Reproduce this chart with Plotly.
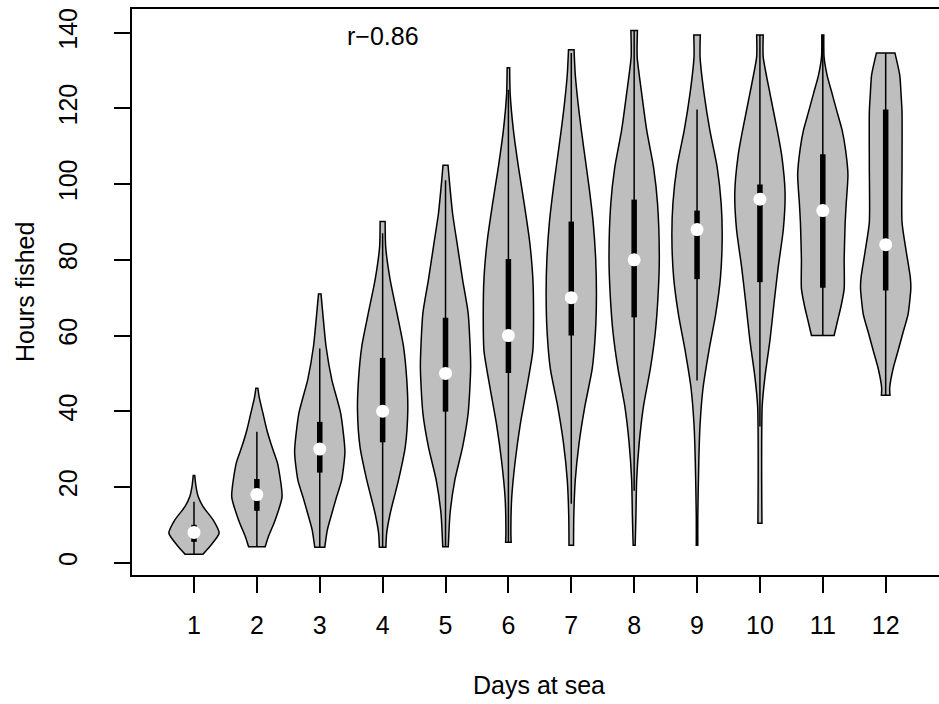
import plotly.graph_objects as go

# ---- data ----
days = [1, 2, 3, 4, 5, 6, 7, 8, 9, 10, 11, 12]
tick_labels = ["1", "2", "3", "4", "5", "6", "7", "8", "9", "10", "11", "12"]
y_ticks = [0, 20, 40, 60, 80, 100, 120, 140]

medians = [8, 18, 30, 40, 50, 60, 70, 80, 88, 96, 93, 84]
q1 = [5.5, 13.7, 23.8, 31.8, 39.9, 50.1, 60.0, 64.8, 74.9, 74.1, 72.6, 71.9]
q3 = [10.0, 22.1, 37.2, 54.1, 64.7, 80.2, 90.1, 95.9, 93.0, 99.9, 107.9, 119.7]
whisk_lo = [2.2, 4.2, 4.1, 4.1, 4.2, 5.4, 15.6, 19.0, 48.1, 36.0, 60.0, 44.2]
whisk_hi = [16.1, 34.6, 56.6, 87.0, 101.0, 124.9, 134.6, 140.6, 119.7, 139.4, 139.4, 134.6]

# density outline of each violin: hours levels and relative half-width
d1_y = [2.2, 4.2, 7.8, 11.3, 14.8, 17.4, 20.1, 23.0]
d1_w = [0.35, 0.62, 1.0, 0.76, 0.36, 0.17, 0.08, 0.03]
d2_y = [4.2, 6.9, 11.3, 17.4, 26.3, 30.6, 35.0, 39.5, 43.8, 46.1]
d2_w = [0.33, 0.46, 0.73, 1.0, 0.82, 0.6, 0.4, 0.24, 0.09, 0.04]
d3_y = [4.1, 5.1, 8.6, 13.0, 17.4, 21.8, 29.3, 39.5, 48.3, 57.1, 65.9, 71.0]
d3_w = [0.2, 0.22, 0.3, 0.48, 0.67, 0.87, 1.0, 0.83, 0.48, 0.25, 0.12, 0.05]
d4_y = [4.1, 7.8, 13.0, 21.8, 30.6, 40.3, 48.3, 57.1, 65.9, 74.7, 83.5, 90.1]
d4_w = [0.13, 0.16, 0.3, 0.63, 0.9, 1.0, 0.96, 0.83, 0.57, 0.3, 0.12, 0.1]
d5_y = [4.2, 13.0, 21.8, 30.6, 39.5, 51.8, 65.9, 74.7, 83.5, 92.3, 101.1, 105.0]
d5_w = [0.11, 0.18, 0.37, 0.68, 0.9, 1.0, 0.9, 0.68, 0.48, 0.28, 0.15, 0.1]
d6_y = [5.4, 7.3, 17.0, 26.8, 36.5, 46.2, 55.9, 64.7, 75.3, 85.1, 94.8, 104.5, 114.2, 123.9, 130.7]
d6_w = [0.11, 0.1, 0.13, 0.27, 0.47, 0.73, 0.97, 1.0, 0.97, 0.84, 0.63, 0.4, 0.2, 0.07, 0.05]
d7_y = [4.6, 12.2, 21.9, 31.6, 41.3, 51.1, 60.8, 70.5, 80.2, 89.9, 99.6, 109.3, 119.0, 128.8, 135.5]
d7_w = [0.09, 0.1, 0.16, 0.31, 0.54, 0.83, 0.96, 1.0, 0.97, 0.87, 0.7, 0.5, 0.31, 0.16, 0.11]
d8_y = [4.6, 12.2, 21.9, 31.6, 41.3, 51.1, 60.8, 70.5, 80.2, 94.8, 104.5, 114.2, 123.9, 133.6, 140.6]
d8_w = [0.04, 0.07, 0.1, 0.2, 0.37, 0.64, 0.84, 0.95, 1.0, 0.93, 0.77, 0.5, 0.3, 0.12, 0.13]
d9_y = [4.6, 12.2, 26.8, 36.5, 46.2, 55.9, 65.6, 75.3, 86.0, 94.8, 104.5, 114.2, 123.9, 133.6, 139.4]
d9_w = [0.03, 0.03, 0.07, 0.12, 0.24, 0.47, 0.74, 0.93, 1.0, 0.96, 0.8, 0.51, 0.28, 0.12, 0.13]
d10_y = [10.4, 21.9, 31.6, 41.3, 49.1, 58.8, 68.5, 78.2, 88.0, 97.7, 107.4, 114.2, 123.9, 133.6, 139.4]
d10_w = [0.08, 0.07, 0.07, 0.09, 0.2, 0.4, 0.56, 0.73, 0.93, 1.0, 0.87, 0.69, 0.4, 0.13, 0.13]
d11_y = [60.0, 63.7, 67.6, 72.4, 80.2, 89.9, 94.8, 102.5, 109.3, 114.2, 119.0, 123.9, 128.8, 133.6, 139.4]
d11_w = [0.45, 0.58, 0.72, 0.85, 0.85, 0.89, 0.93, 1.0, 0.9, 0.77, 0.57, 0.37, 0.17, 0.05, 0.04]
d12_y = [44.2, 46.2, 51.1, 55.9, 60.8, 65.6, 72.4, 75.3, 82.1, 89.9, 104.5, 119.0, 123.9, 128.8, 134.6]
d12_w = [0.17, 0.16, 0.29, 0.49, 0.69, 0.89, 1.0, 0.98, 0.82, 0.65, 0.65, 0.65, 0.61, 0.56, 0.37]

dens_y = [d1_y, d2_y, d3_y, d4_y, d5_y, d6_y, d7_y, d8_y, d9_y, d10_y, d11_y, d12_y]
dens_w = [d1_w, d2_w, d3_w, d4_w, d5_w, d6_w, d7_w, d8_w, d9_w, d10_w, d11_w, d12_w]

HALF = 0.4  # max half-width of a violin, in day units
FONT = "Liberation Sans, Arial, Helvetica, sans-serif"
FS = 25

fig = go.Figure()

for d, ys, ws in zip(days, dens_y, dens_w):
    # right side bottom->top (ends doubled so the spline keeps flat, sharp ends)
    rx = [d + HALF * w for w in ws]
    lx = [d - HALF * w for w in reversed(ws)]
    ry = list(ys)
    ly = list(reversed(ys))
    xs = [rx[0]] + rx + [rx[-1]] + [lx[0]] + lx + [lx[-1]] + [rx[0], rx[0]]
    yy = [ry[0]] + ry + [ry[-1]] + [ly[0]] + ly + [ly[-1]] + [ry[0], ry[0]]
    fig.add_trace(go.Scatter(
        x=xs, y=yy, mode="lines", fill="toself", fillcolor="#BEBEBE",
        line=dict(color="black", width=1.5, shape="spline", smoothing=0.6),
        hoverinfo="skip", showlegend=False))

for i, d in enumerate(days):
    fig.add_trace(go.Scatter(x=[d, d], y=[whisk_lo[i], whisk_hi[i]], mode="lines",
                             line=dict(color="black", width=1.5), showlegend=False, hoverinfo="skip"))
    fig.add_trace(go.Scatter(x=[d, d], y=[q1[i], q3[i]], mode="lines",
                             line=dict(color="black", width=5.5), showlegend=False, hoverinfo="skip"))

fig.add_trace(go.Scatter(x=days, y=medians, mode="markers",
                         marker=dict(color="white", size=13, line=dict(width=0)),
                         showlegend=False, hoverinfo="skip"))

fig.add_annotation(x=4, y=139.2, xref="x", yref="y", text="r\u22120.86", showarrow=False,
                   font=dict(family=FONT, size=FS, color="black"), xanchor="center", yanchor="middle")

fig.add_annotation(x=(539.4 - 132) / 807, y=-(685 - 575) / 566, xref="paper", yref="paper",
                   text="Days at sea", showarrow=False, xanchor="center", yanchor="middle",
                   font=dict(family=FONT, size=FS, color="black"))
fig.add_annotation(x=(25 - 132) / 807, y=0.5, xref="paper", yref="paper",
                   text="Hours fished", showarrow=False, xanchor="center", yanchor="middle",
                   textangle=-90, font=dict(family=FONT, size=FS, color="black"))

fig.update_layout(
    width=939, height=704,
    margin=dict(l=132, r=0, t=9, b=129),
    paper_bgcolor="white", plot_bgcolor="white",
    font=dict(family=FONT, size=FS, color="black"),
    xaxis=dict(range=[0.014, 12.848], tickvals=days, ticktext=tick_labels,
               ticks="outside", ticklen=16, tickwidth=1.5, tickcolor="black",
               showline=True, linewidth=1.5, linecolor="black", mirror=True,
               showgrid=False, zeroline=False, ticklabelstandoff=11,
               tickfont=dict(family=FONT, size=FS, color="black")),
    yaxis=dict(range=[-3.25, 146.25], tickvals=y_ticks,
               ticks="outside", ticklen=16, tickwidth=1.5, tickcolor="black",
               showline=True, linewidth=1.5, linecolor="black", mirror=False,
               showgrid=False, zeroline=False, tickangle=-90, ticklabelstandoff=27,
               tickfont=dict(family=FONT, size=FS, color="black")),
)

fig.write_html("out.html")
